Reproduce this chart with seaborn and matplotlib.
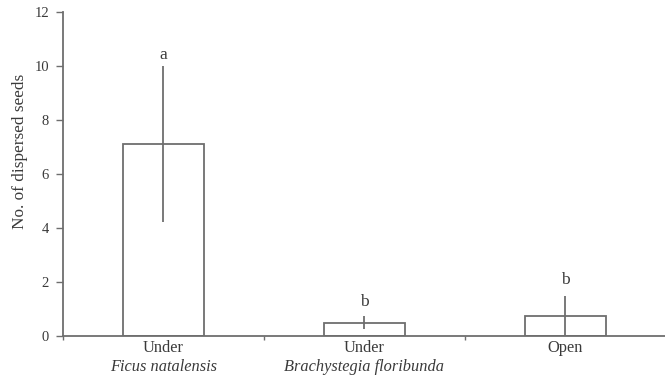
import matplotlib
matplotlib.use("Agg")
import matplotlib.pyplot as plt
import seaborn as sns
import pandas as pd
from matplotlib.transforms import blended_transform_factory

groups = ["Under", "Under", "Open"]
species = ["Ficus natalensis", "Brachystegia floribunda", ""]
means = [7.1, 0.48, 0.75]
errors = [2.9, 0.24, 0.72]
letters = ["a", "b", "b"]
letter_y = [10.4, 1.26, 2.06]
yticks = [0, 2, 4, 6, 8, 10, 12]

sns.set_theme(style="white")
plt.rcParams["font.family"] = ["Liberation Serif", "DejaVu Serif"]

line_c = "#6e6e6e"
text_c = "#3a3a3a"

fig = plt.figure(figsize=(6.65, 3.76), dpi=100)
ax = fig.add_axes([0.0947, 0.107, 0.9068, 0.862])

df = pd.DataFrame({"pos": [0, 1, 2], "mean": means})
sns.barplot(data=df, x="pos", y="mean", ax=ax, color="white", edgecolor=line_c,
            linewidth=1.3, width=0.4, errorbar=None, native_scale=True, zorder=2)
ax.errorbar(df["pos"], means, yerr=errors, fmt="none", ecolor=line_c,
            elinewidth=1.3, capsize=0, zorder=3)

for i, (l, ly) in enumerate(zip(letters, letter_y)):
    ax.text(i, ly, l, ha="center", va="center", fontsize=12.5, color=text_c)

ax.set_xlim(-0.5, 2.5)
ax.set_ylim(0, 12)
ax.set_yticks(yticks)
ax.set_yticklabels([str(t) for t in yticks], fontsize=10.5, color=text_c)
ax.set_xticks([0, 1, 2])
ax.set_xticklabels(groups, fontsize=11.8, color=text_c)
ax.tick_params(axis="x", which="major", length=0, pad=3)
ax.set_xticks([-0.5, 0.5, 1.5], minor=True)
ax.tick_params(axis="x", which="minor", length=3, width=1, color=line_c, direction="out", bottom=True)
ax.tick_params(axis="y", length=5, width=1, color=line_c, direction="out", left=True, pad=5)

trans = blended_transform_factory(ax.transData, ax.transAxes)
for i, s in enumerate(species):
    if s:
        ax.text(i, -0.097, s, ha="center", va="center", fontsize=11.8,
                style="italic", color=text_c, transform=trans)

ax.set_xlabel("")
ax.set_ylabel("No. of dispersed seeds", fontsize=12.4, color=text_c)
ax.yaxis.set_label_coords(-0.058, 0.57)

for side in ["top", "right"]:
    ax.spines[side].set_visible(False)
for side in ["left", "bottom"]:
    ax.spines[side].set_color(line_c)
    ax.spines[side].set_linewidth(1.3)

fig.savefig("out.png", dpi=100)
